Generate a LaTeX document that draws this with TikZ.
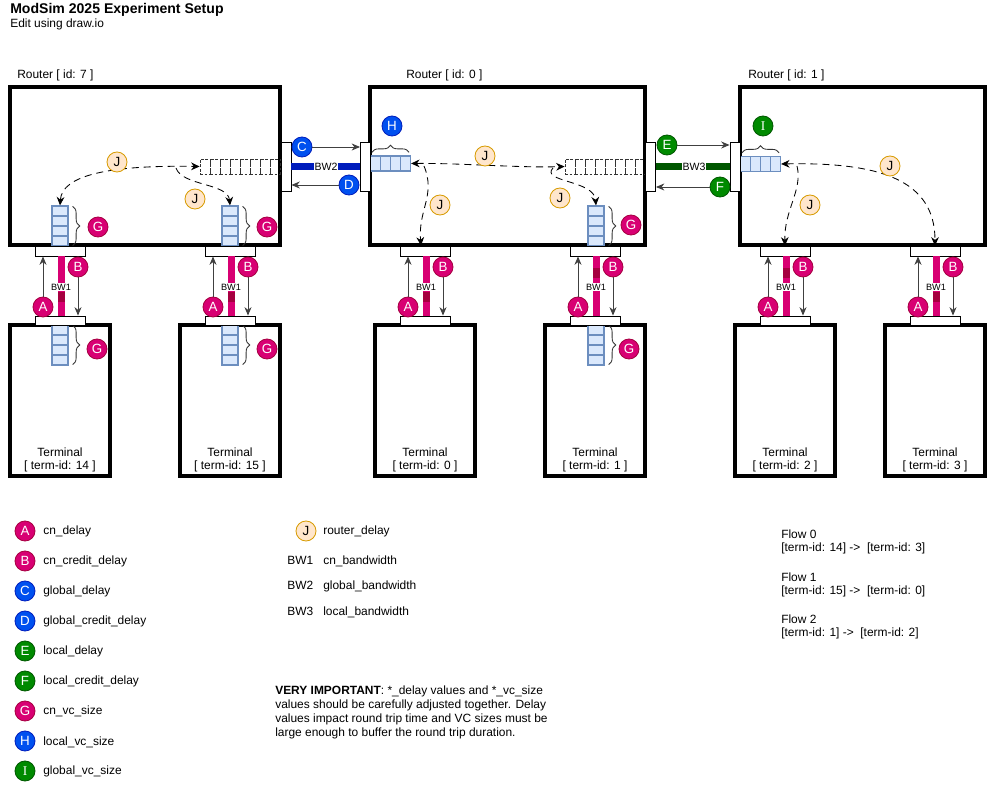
\documentclass[tikz,border=0pt]{standalone}
\usepackage{fontspec}
\setmainfont{Liberation Sans}
\newfontfamily\serifI{Liberation Serif}
\usetikzlibrary{arrows.meta,calc,decorations.pathreplacing}

\definecolor{magfill}{HTML}{D80073}
\definecolor{magline}{HTML}{A50040}
\definecolor{bluefill}{HTML}{0050EF}
\definecolor{blueline}{HTML}{001DBC}
\definecolor{greenfill}{HTML}{008A00}
\definecolor{greenline}{HTML}{005700}
\definecolor{jfill}{HTML}{FFE6CC}
\definecolor{jline}{HTML}{D79B00}
\definecolor{qfill}{HTML}{DAE8FC}
\definecolor{qline}{HTML}{6C8EBF}

\tikzset{
  lbl/.style={inner sep=0pt, font=\fontsize{8.5}{10.5}\selectfont},
  box/.style 2 args={draw, line width=2.8pt, inner sep=0pt,
    minimum width=#1*0.025cm, minimum height=#2*0.025cm},
  port/.style 2 args={draw, fill=white, line width=0.6pt, inner sep=0pt,
    minimum width=#1*0.025cm, minimum height=#2*0.025cm},
  cell/.style={draw=qline, fill=qfill, line width=0.9pt, inner sep=0pt},
  hcell/.style={cell, minimum width=0.25cm, minimum height=0.375cm},
  vcell/.style={cell, minimum width=0.4cm, minimum height=0.25cm},
  ghost/.style={draw=black!80, dash pattern=on 1.8pt off 1.4pt, line width=0.6pt,
    inner sep=0pt, minimum width=0.25cm, minimum height=0.375cm},
  badge/.style 2 args={circle, fill=#1, draw=#2, line width=0.6pt, text=white,
    minimum size=0.5cm, inner sep=0pt, font=\fontsize{9.5}{10}\selectfont},
  magbadge/.style={badge={magfill}{magline}},
  bluebadge/.style={badge={bluefill}{blueline}},
  greenbadge/.style={badge={greenfill}{greenline}},
  jbadge/.style={badge={jfill}{jline}, text=black},
  wire/.style={draw=black!75, line width=0.7pt, -{Stealth[length=6pt,width=5pt]}},
  hop/.style={line width=0.6pt, dash pattern=on 5pt off 3.5pt,
    -{Stealth[length=6pt,width=5.5pt]}},
  hophop/.style={hop, {Stealth[length=6pt,width=5.5pt]}-{Stealth[length=6pt,width=5.5pt]}},
  curly/.style={decorate, decoration={brace, amplitude=5pt}, line width=0.6pt, draw=black!80},
  bwlabel/.style={fill=white, inner sep=0.6pt, font=\fontsize{6.5}{7}\selectfont},
  bwtop/.style={fill=white, inner sep=0.6pt, font=\fontsize{7.5}{8}\selectfont},
}

\begin{document}
\begin{tikzpicture}[x=0.025cm,y=-0.025cm]
  \useasboundingbox (0,0) rectangle (988,786);

  \node[lbl, font=\fontsize{10}{12}\selectfont\bfseries, anchor=base west] (title) at (10,13.5) {ModSim 2025 Experiment Setup};
  \node[lbl, anchor=base west] (subtitle) at (10,27.5) {Edit using draw.io};

  % routers and terminals
  \node[box={270}{158}] (r7) at (145,166) {};
  \node[box={275}{158}] (r0) at (507.5,166) {};
  \node[box={245}{158}] (r1) at (862.5,166) {};
  \node[lbl, anchor=base west] (r7lab) at (17,79) {Router [ id: 7 ]};
  \node[lbl, anchor=base west] (r0lab) at (406,79) {Router [ id: 0 ]};
  \node[lbl, anchor=base west] (r1lab) at (748,79) {Router [ id: 1 ]};

  \foreach \cx/\tid in {60/14, 230/15, 425/0, 595/1, 785/2, 935/3} {
    \node[box={100}{151}] (term\tid) at (\cx,400.5) {};
    \node[lbl, align=center, anchor=base, font=\fontsize{8.5}{9.3}\selectfont] (tlab\tid) at (\cx,470) {Terminal\\{[ term-id: \tid\ ]}};
  }

  % buffers
  \foreach \i in {0,...,3} {
    \node[vcell] (q7a\i) at (60,211+10*\i) {};
    \node[vcell] (q7b\i) at (230,211+10*\i) {};
    \node[vcell] (q0b\i) at (596,211+10*\i) {};
    \node[vcell] (qt14\i) at (60,330+10*\i) {};
    \node[vcell] (qt15\i) at (230,330+10*\i) {};
    \node[vcell] (qt1\i) at (596,330+10*\i) {};
    \node[hcell] (h\i) at (375.5+10*\i,163.5) {};
    \node[hcell] (ivc\i) at (745.5+10*\i,164) {};
  }
  \foreach \i in {0,...,7} {
    \node[ghost] (dq7\i) at (205+10*\i,166.5) {};
    \node[ghost] (dq0\i) at (570+10*\i,166.5) {};
  }

  \draw[curly] ($(q7a0.north east)+(4,1)$) -- ($(q7a3.south east)+(4,-1)$);
  \draw[curly] ($(q7b0.north east)+(4,1)$) -- ($(q7b3.south east)+(4,-1)$);
  \draw[curly] ($(q0b0.north east)+(4,1)$) -- ($(q0b3.south east)+(4,-1)$);
  \draw[curly] ($(qt140.north east)+(4,1)$) -- ($(qt143.south east)+(4,-1)$);
  \draw[curly] ($(qt150.north east)+(4,1)$) -- ($(qt153.south east)+(4,-1)$);
  \draw[curly] ($(qt10.north east)+(4,1)$) -- ($(qt13.south east)+(4,-1)$);
  \draw[curly] ($(h0.north west)+(2,-3)$) -- ($(h3.north east)+(-2,-3)$);
  \draw[curly] ($(ivc0.north west)+(2,-3)$) -- ($(ivc3.north east)+(-2,-3)$);

  \node[magbadge] (g7a) at (98,227) {G};
  \node[magbadge] (g7b) at (267,227) {G};
  \node[magbadge] (g0) at (631,225) {G};
  \node[magbadge] (gt14) at (97,349) {G};
  \node[magbadge] (gt15) at (267,349) {G};
  \node[magbadge] (gt1) at (629,349) {G};
  \node[bluebadge] (hbadge) at (392,126) {H};
  \node[greenbadge] (ibadge) at (763,126) {\serifI I};

  % router to router links
  \node[port={10}{49}] (p7) at (286,166.5) {};
  \node[port={10}{49}] (p0w) at (365.5,166.5) {};
  \node[port={10}{49}] (p0e) at (650.5,166.5) {};
  \node[port={10}{49}] (p1w) at (735,166.5) {};

  \fill[blueline] ($(p7.east)+(0,-3.5)$) rectangle ($(p0w.west)+(0,3.5)$);
  \node[bwtop] (bw2) at (326,166.5) {BW2};
  \node[bluebadge] (c) at (302,147) {C};
  \node[bluebadge] (d) at (349,185) {D};
  \draw[wire] (c.east) -- (p0w.west |- c);
  \draw[wire] (d.west) -- (p7.east |- d);

  \fill[greenline] ($(p0e.east)+(0,-3.5)$) rectangle ($(p1w.west)+(0,3.5)$);
  \node[bwtop] (bw3) at (694,166.5) {BW3};
  \node[greenbadge] (e) at (667,145) {E};
  \node[greenbadge] (f) at (720,187) {F};
  \draw[wire] (e.east) -- (p1w.west |- e);
  \draw[wire] (f.west) -- (p0e.east |- f);

  % router to terminal links
  \foreach \cx/\tid/\dk in {60/14/297, 230/15/297, 425/0/297, 595/1/273, 785/2/273, 935/3/297} {
    \node[port={50}{10}] (rp\tid) at (\cx,251) {};
    \node[port={50}{9}] (tp\tid) at (\cx,320.5) {};
    \fill[magfill] ($(rp\tid.south)+(-2.5,0)$) rectangle ($(tp\tid.north)+(4.5,0)$);
    \fill[magline] (\cx-2.5,\dk-5) rectangle (\cx+4.5,\dk+5);
    \node[bwlabel] (bw\tid) at (\cx+1,287) {BW1};
    \node[magbadge] (a\tid) at (\cx-17,307) {A};
    \node[magbadge] (b\tid) at (\cx+18,267) {B};
    \draw[wire] (a\tid.north) -- (rp\tid.south -| a\tid);
    \draw[wire] (b\tid.south) -- (tp\tid.north -| b\tid);
  }

  % hops inside the routers
  \draw[hophop] (q7a0.north) .. controls (62,175) and (110,165) .. (dq70.west);
  \coordinate (fork7) at (176,168);
  \draw[hop] (fork7) .. controls (182,186) and (228,183) .. (q7b0.north);

  \draw[hophop] (h3.east) .. controls (460,163) and (520,168) .. (dq00.west);
  \coordinate (fork0a) at (424,166);
  \draw[hop] (fork0a) .. controls (436,195) and (418,210) .. ($(rp0.north)+(-4,0)$);
  \coordinate (fork0b) at (553,168);
  \draw[hop] (fork0b) .. controls (540,182) and (594,180) .. (q0b0.north);

  \draw[hophop] (ivc3.east) .. controls (880,162) and (935,180) .. (rp3.north);
  \coordinate (fork1) at (797,166);
  \draw[hop] (fork1) .. controls (803,190) and (784,210) .. (rp2.north);

  \node[jbadge] (j7a) at (117,162) {J};
  \node[jbadge] (j7b) at (195,199) {J};
  \node[jbadge] (j0a) at (485,156) {J};
  \node[jbadge] (j0b) at (440,205) {J};
  \node[jbadge] (j0c) at (560,198) {J};
  \node[jbadge] (j1a) at (890,166) {J};
  \node[jbadge] (j1b) at (810,205) {J};

  % legend
  \foreach \sty/\sym/\txt [count=\k from 0] in {magbadge/A/cn\_delay, magbadge/B/cn\_credit\_delay,
      bluebadge/C/global\_delay, bluebadge/D/global\_credit\_delay, greenbadge/E/local\_delay,
      greenbadge/F/local\_credit\_delay, magbadge/G/cn\_vc\_size, bluebadge/H/local\_vc\_size,
      greenbadge/{\serifI I}/global\_vc\_size} {
    \node[\sty] (key\k) at (25,531+30*\k) {\sym};
    \node[lbl, anchor=base west] (keytxt\k) at (43,535+30*\k) {\txt};
  }
  \node[jbadge] (keyj) at (306,531) {J};
  \node[lbl, anchor=base west] (keyjtxt) at (323,535) {router\_delay};
  \node[lbl, anchor=base west] (keybw1) at (287,565) {BW1};
  \node[lbl, anchor=base west] (keybw1txt) at (323,565) {cn\_bandwidth};
  \node[lbl, anchor=base west] (keybw2) at (287,590) {BW2};
  \node[lbl, anchor=base west] (keybw2txt) at (323,590) {global\_bandwidth};
  \node[lbl, anchor=base west] (keybw3) at (287,616) {BW3};
  \node[lbl, anchor=base west] (keybw3txt) at (323,616) {local\_bandwidth};

  \node[lbl, align=left, anchor=base west, font=\fontsize{8.5}{10.1}\selectfont] (note) at (275,737)
    {\textbf{VERY IMPORTANT}: *\_delay values and *\_vc\_size\\
     values should be carefully adjusted together. Delay\\
     values impact round trip time and VC sizes must be\\
     large enough to buffer the round trip duration.};

  \node[lbl, align=left, anchor=base west, font=\fontsize{8.5}{9.3}\selectfont] (flow0) at (781,552)
    {Flow 0\\{[term-id: 14] ->\ \ [term-id: 3]}};
  \node[lbl, align=left, anchor=base west, font=\fontsize{8.5}{9.3}\selectfont] (flow1) at (781,595)
    {Flow 1\\{[term-id: 15] ->\ \ [term-id: 0]}};
  \node[lbl, align=left, anchor=base west, font=\fontsize{8.5}{9.3}\selectfont] (flow2) at (781,637)
    {Flow 2\\{[term-id: 1] ->\ \ [term-id: 2]}};
\end{tikzpicture}
\end{document}
